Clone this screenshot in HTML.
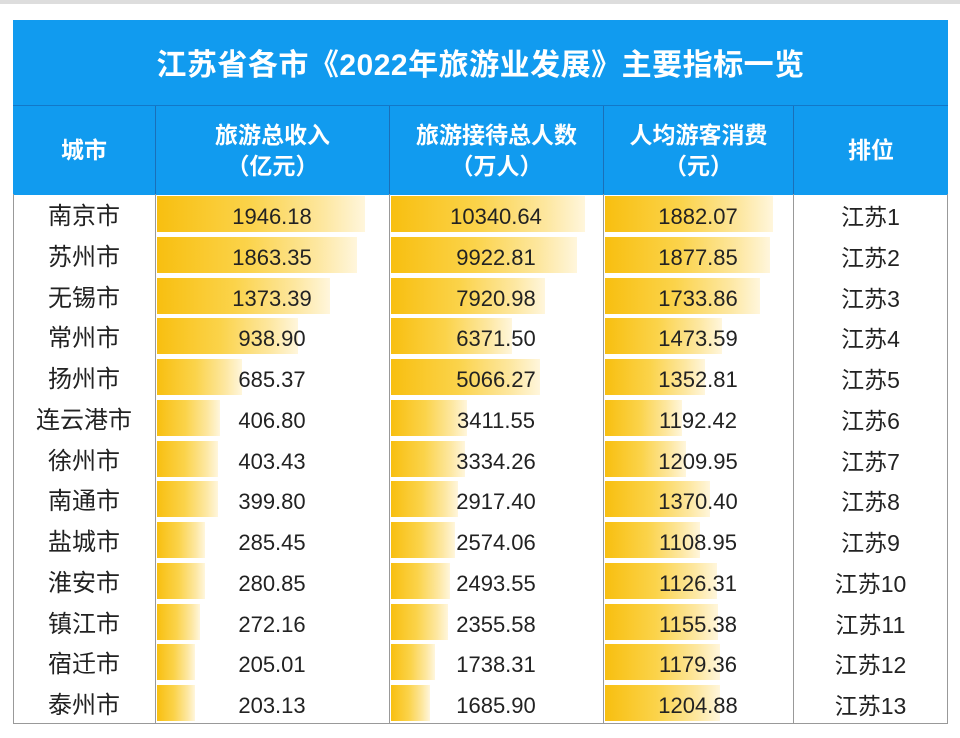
<!DOCTYPE html>
<html><head><meta charset="utf-8"><style>
body{margin:0;width:960px;height:738px;background:#fff;position:relative;overflow:hidden;font-family:"Liberation Sans","Noto Sans CJK SC",sans-serif}
.a{position:absolute}
#t{left:13px;top:20px;width:935px;height:85px;background:#119bef;color:#fff;font-size:30px;font-weight:bold;text-align:center;line-height:92px;letter-spacing:0.5px}
#h{left:13px;top:105px;width:935px;height:89px;background:#119bef;border-top:1px solid #1378c8}
.hc{position:absolute;top:0;height:89px;color:#fff;font-size:23px;font-weight:bold;display:flex;align-items:center;justify-content:center;text-align:center;line-height:31px;border-left:1px solid #1a6fb8;box-sizing:border-box}
#b{left:13px;top:194px;width:935px;height:530px;border:1px solid #999;border-top:none;box-sizing:border-box}
.vl{position:absolute;top:194px;height:530px;width:1px;background:#999}
.r{position:absolute;height:40.8px;font-size:22px;color:#222;line-height:46px;text-align:center}
.c{font-size:24px}
.bar{position:absolute;height:36px;background:linear-gradient(90deg,#f8bf10 0%,#fbd34a 45%,#fde7a0 80%,#fff6dc 100%)}
</style></head><body>
<div class="a" style="left:0;top:0;width:960px;height:4px;background:#ddd"></div>
<div class="a" id="t">江苏省各市《2022年旅游业发展》主要指标一览</div>
<div class="a" id="h">
<div class="hc" style="left:0;width:142px;border-left:none">城市</div>
<div class="hc" style="left:142px;width:234px">旅游总收入<br>（亿元）</div>
<div class="hc" style="left:376px;width:214px">旅游接待总人数<br>（万人）</div>
<div class="hc" style="left:590px;width:190px">人均游客消费<br>（元）</div>
<div class="hc" style="left:780px;width:155px">排位</div>
</div>
<div class="a" id="b"></div>
<div class="vl" style="left:155px"></div><div class="vl" style="left:389px"></div><div class="vl" style="left:603px"></div><div class="vl" style="left:793px"></div>
<div id="rows"></div>
<script>
var d=[["南京市","1946.18","10340.64","1882.07",365,585,773],
["苏州市","1863.35","9922.81","1877.85",357,577,770],
["无锡市","1373.39","7920.98","1733.86",330,545,760],
["常州市","938.90","6371.50","1473.59",298,512,722],
["扬州市","685.37","5066.27","1352.81",242,540,705],
["连云港市","406.80","3411.55","1192.42",220,467,682],
["徐州市","403.43","3334.26","1209.95",218,465,686],
["南通市","399.80","2917.40","1370.40",218,458,710],
["盐城市","285.45","2574.06","1108.95",205,455,700],
["淮安市","280.85","2493.55","1126.31",205,450,717],
["镇江市","272.16","2355.58","1155.38",200,448,718],
["宿迁市","205.01","1738.31","1179.36",195,435,720],
["泰州市","203.13","1685.90","1204.88",195,430,720]];
var h="";
for(var i=0;i<13;i++){var y=194+i*40.77;var r=d[i];
h+='<div class="bar" style="left:157px;top:'+(y+2)+'px;width:'+(r[4]-157)+'px"></div>';
h+='<div class="bar" style="left:391px;top:'+(y+2)+'px;width:'+(r[5]-391)+'px"></div>';
h+='<div class="bar" style="left:605px;top:'+(y+2)+'px;width:'+(r[6]-605)+'px"></div>';
h+='<div class="r c" style="left:13px;width:142px;top:'+y+'px">'+r[0]+'</div>';
h+='<div class="r" style="left:155px;width:234px;top:'+y+'px">'+r[1]+'</div>';
h+='<div class="r" style="left:389px;width:214px;top:'+y+'px">'+r[2]+'</div>';
h+='<div class="r" style="left:603px;width:190px;top:'+y+'px">'+r[3]+'</div>';
h+='<div class="r" style="left:793px;width:155px;top:'+y+'px;font-size:23px">江苏'+(i+1)+'</div>';}
document.getElementById("rows").innerHTML=h;
</script>
</body></html>
